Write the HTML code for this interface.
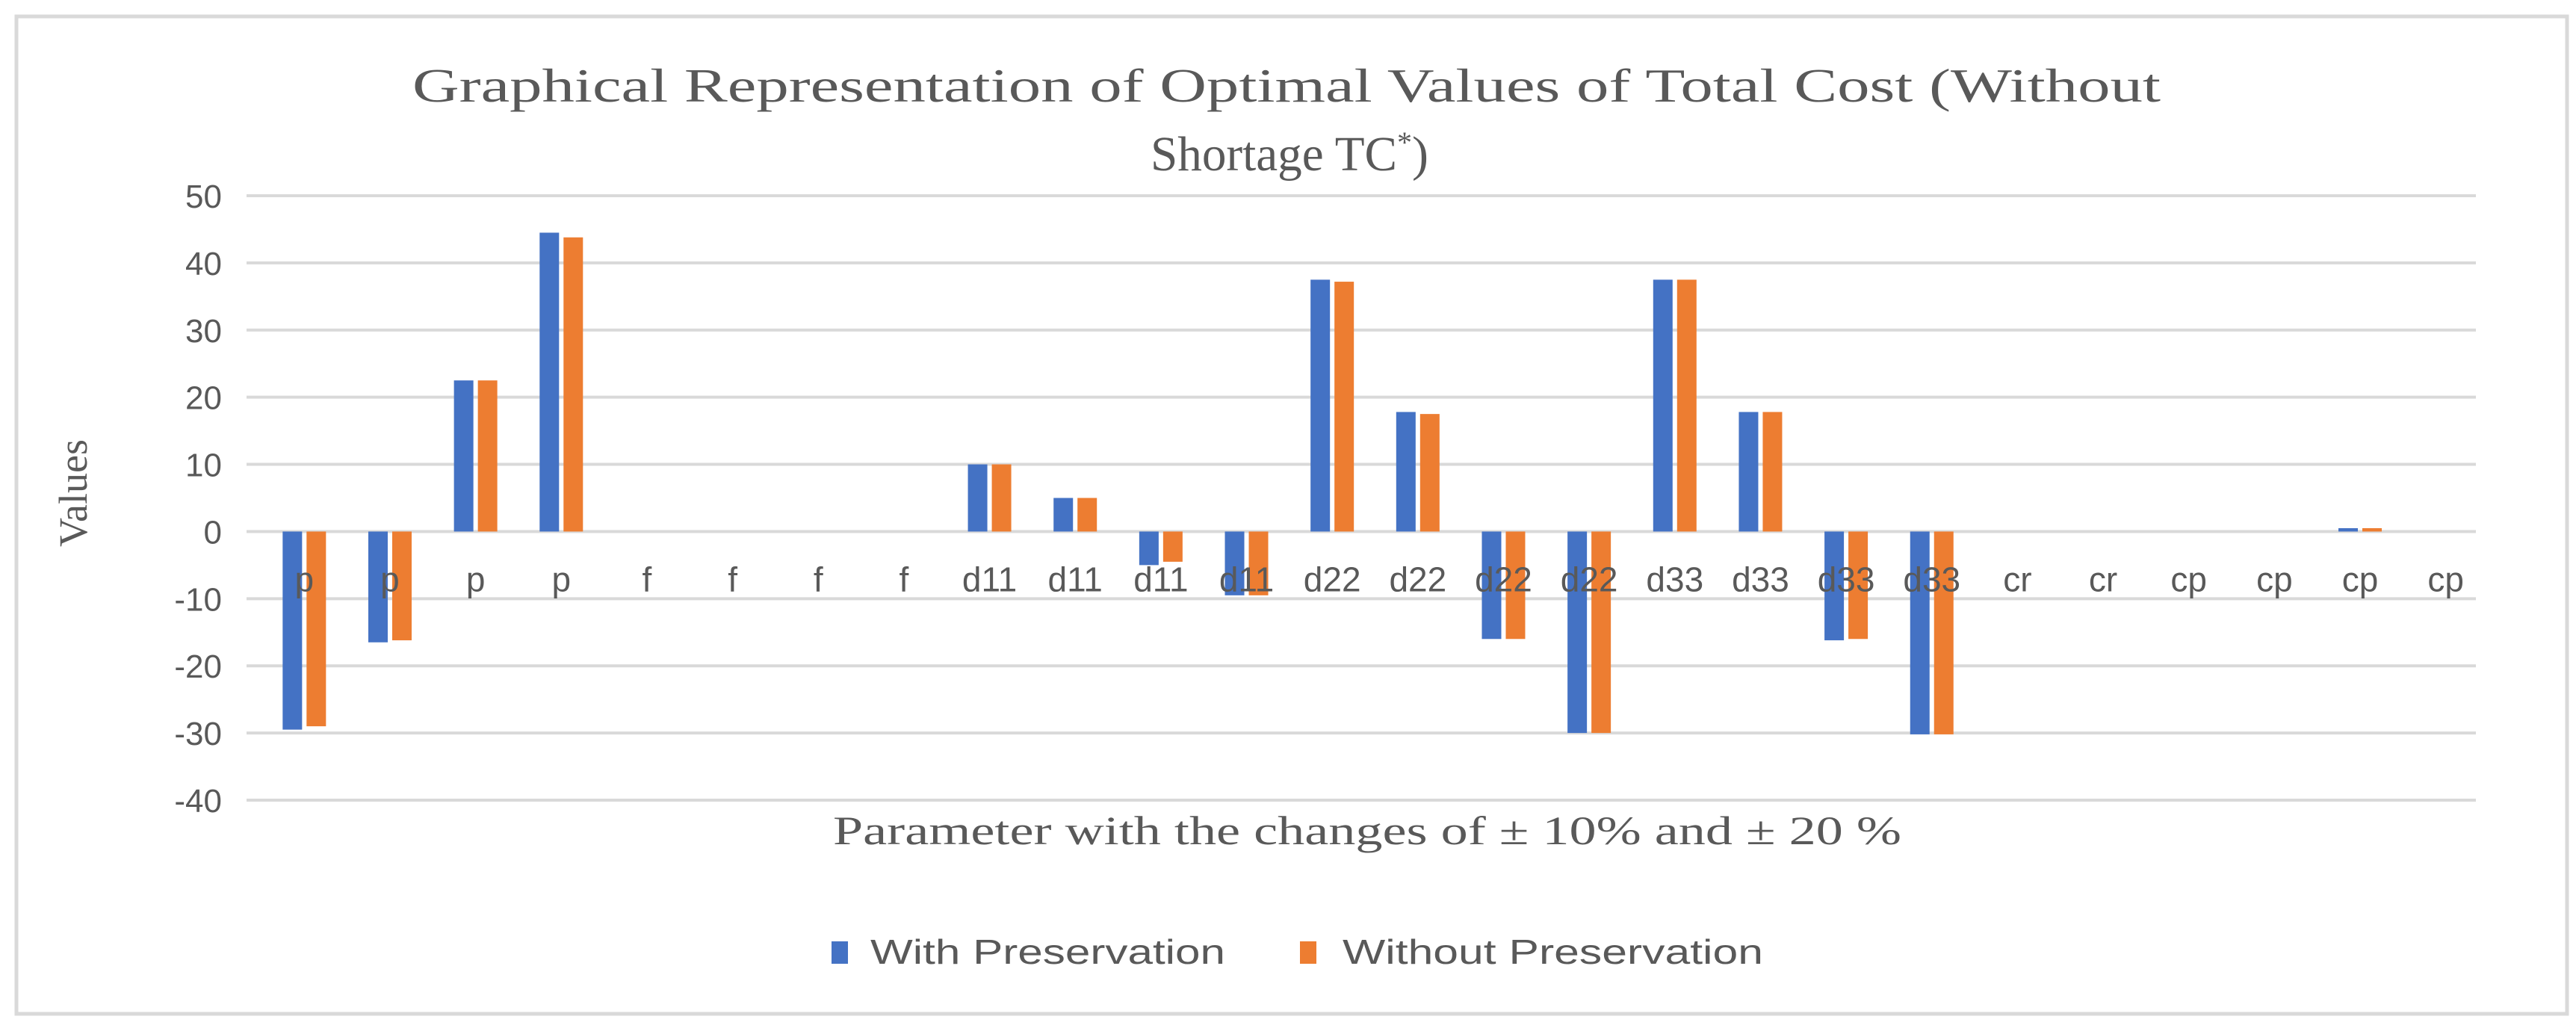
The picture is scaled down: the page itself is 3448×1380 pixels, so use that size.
<!DOCTYPE html>
<html><head><meta charset="utf-8"><style>
html,body{margin:0;padding:0;background:#fff;}
svg{display:block;}
</style></head><body>
<svg id="chart" width="3448" height="1380" viewBox="0 0 3448 1380" xmlns="http://www.w3.org/2000/svg">
<rect x="0" y="0" width="3448" height="1380" fill="#fff"/>
<rect x="22" y="22" width="3414" height="1335" fill="#fff" stroke="#d9d9d9" stroke-width="5"/>
<text x="1722" y="136" text-anchor="middle" font-family="Liberation Serif, serif" font-size="64" fill="#595959" textLength="2340" lengthAdjust="spacingAndGlyphs">Graphical Representation of Optimal Values of Total Cost (Without</text>
<text x="1540" y="228" font-family="Liberation Serif, serif" font-size="66" fill="#595959"><tspan textLength="330" lengthAdjust="spacingAndGlyphs">Shortage TC</tspan><tspan dy="-24" font-size="40">*</tspan><tspan dy="24">)</tspan></text>
<g id="grid"></g>
<g id="bars"></g>
<g id="xlabels"></g>
<g id="ylabels"></g>
<text transform="translate(116,660) rotate(-90)" text-anchor="middle" font-family="Liberation Serif, serif" font-size="54" fill="#595959">Values</text>
<text x="1830" y="1130" text-anchor="middle" font-family="Liberation Serif, serif" font-size="54" fill="#595959" textLength="1430" lengthAdjust="spacingAndGlyphs">Parameter with the changes of ± 10% and ± 20 %</text>
<g>
<rect x="1113" y="1260" width="22" height="30" fill="#4472c4"/>
<text x="1165" y="1290" font-family="Liberation Sans, sans-serif" font-size="46" fill="#595959" textLength="475" lengthAdjust="spacingAndGlyphs">With Preservation</text>
<rect x="1740" y="1260" width="22" height="30" fill="#ed7d31"/>
<text x="1797" y="1290" font-family="Liberation Sans, sans-serif" font-size="46" fill="#595959" textLength="563" lengthAdjust="spacingAndGlyphs">Without Preservation</text>
</g>
</svg>
<script>
const categories = ["p","p","p","p","f","f","f","f","d11","d11","d11","d11","d22","d22","d22","d22","d33","d33","d33","d33","cr","cr","cp","cp","cp","cp"];
const withPreservation = [-29.5,-16.5,22.5,44.5,0,0,0,0,10,5,-5,-9.5,37.5,17.8,-16,-30,37.5,17.8,-16.2,-30.2,0,0,0,0,0.5,0];
const withoutPreservation = [-29,-16.2,22.5,43.8,0,0,0,0,10,5,-4.5,-9.5,37.2,17.5,-16,-30,37.5,17.8,-16,-30.2,0,0,0,0,0.5,0];
const yTicks = [50,40,30,20,10,0,-10,-20,-30,-40];

const NS = "http://www.w3.org/2000/svg";
const plotLeft = 350, plotRight = 3331, plotTop = 262, plotBottom = 1071, yMax = 50, yMin = -40;
const catW = (plotRight - plotLeft) / categories.length;
function yPos(v){ return plotTop + (yMax - v) / (yMax - yMin) * (plotBottom - plotTop); }
function xc(i){ return plotLeft + catW * (i + 0.5); }
function mk(tag, attrs, parent){ const e = document.createElementNS(NS, tag); for (const k in attrs) e.setAttribute(k, attrs[k]); parent.appendChild(e); return e; }

const gridG = document.getElementById('grid');
const ylabG = document.getElementById('ylabels');
yTicks.forEach(t => {
  const l = mk('line', {x1: 330, x2: 3314, y1: yPos(t), y2: yPos(t), stroke: '#d9d9d9', 'stroke-width': 4}, gridG);
  
  
  const tx = mk('text', {x: 297, y: yPos(t) + 16, 'text-anchor': 'end', 'font-family': 'Liberation Sans, sans-serif', 'font-size': 44, fill: '#595959'}, ylabG);
  tx.textContent = t;
  
  
});

const barsG = document.getElementById('bars');
const bw = 26, gap = 6;
function drawBar(i, v, dx, color, name){
  const y0 = yPos(0), yv = yPos(v);
  const r = mk('rect', {x: xc(i) + dx, y: Math.min(y0, yv), width: bw, height: Math.max(Math.abs(yv - y0), v !== 0 ? 1 : 0), fill: color}, barsG);
  
  
}
categories.forEach((c, i) => {
  drawBar(i, withPreservation[i], -bw - gap / 2, '#4472c4', 'bar-with-preservation');
  drawBar(i, withoutPreservation[i], gap / 2, '#ed7d31', 'bar-without-preservation');
});

const xlG = document.getElementById('xlabels');
categories.forEach((c, i) => {
  const t = mk('text', {x: xc(i), y: yPos(0) + 80, 'text-anchor': 'middle', 'font-family': 'Liberation Sans, sans-serif', 'font-size': 46, fill: '#595959'}, xlG);
  t.textContent = c;
  
  
});
</script>
</body></html>
